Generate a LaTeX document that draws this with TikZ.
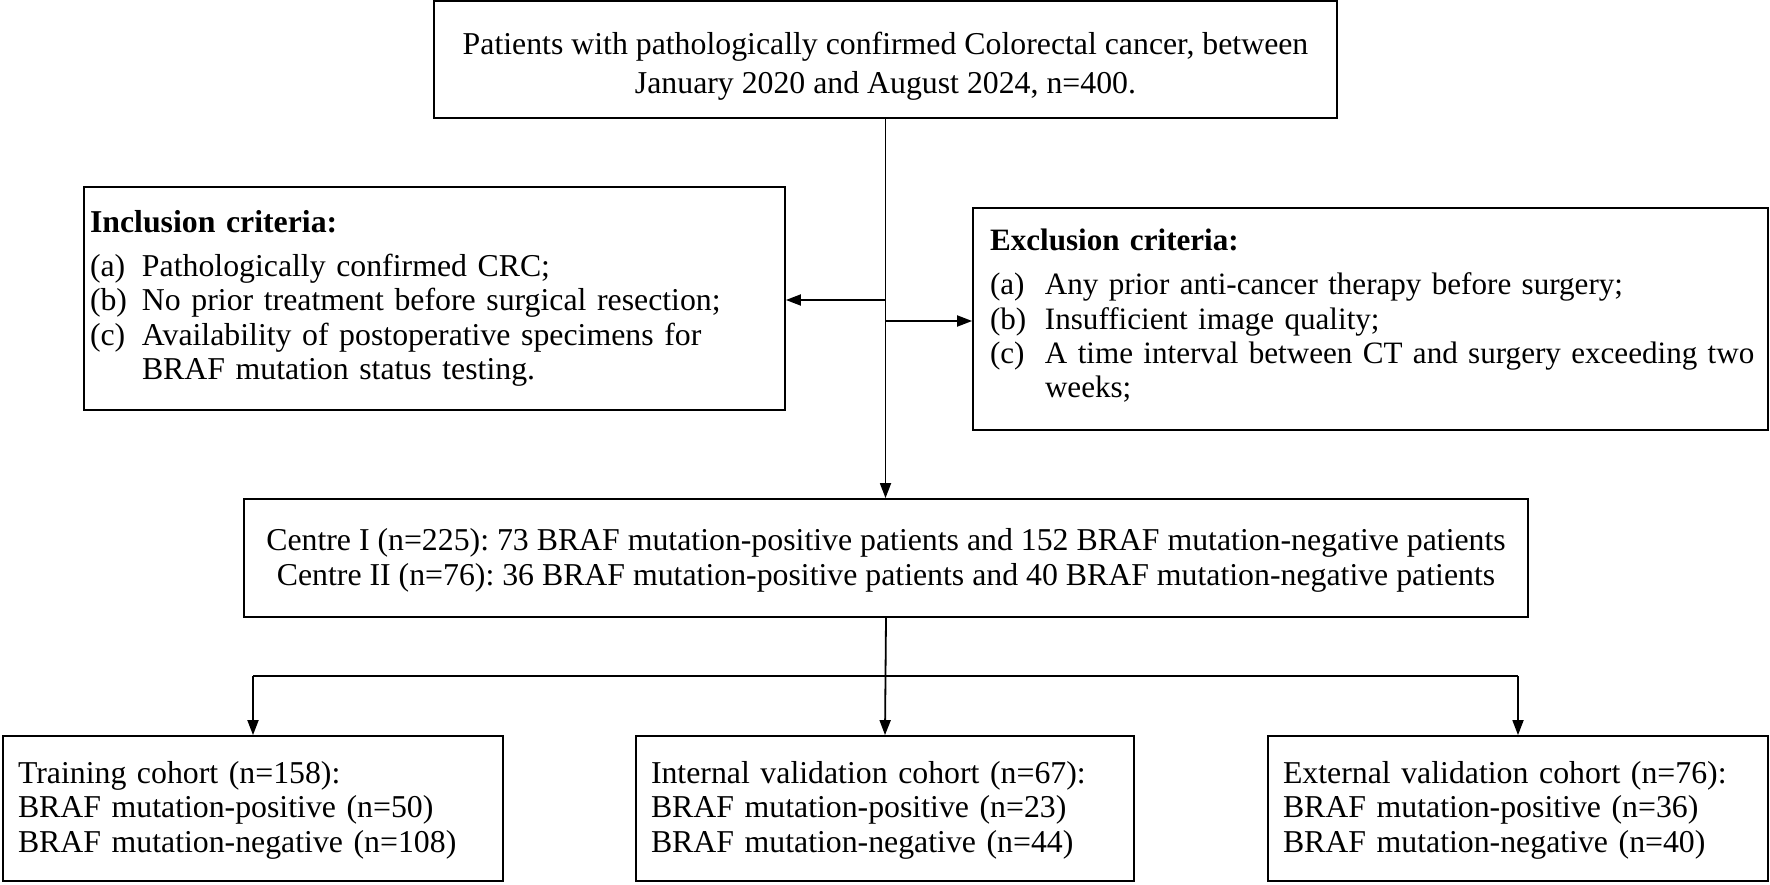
\documentclass[tikz,border=0pt]{standalone}
\usepackage{fontspec}
\setmainfont{Liberation Serif}
\usetikzlibrary{arrows.meta}
\frenchspacing
\newcommand\lblA[1]{\makebox[52pt][l]{#1}}
\newcommand\lblB[1]{\makebox[55pt][l]{#1}}
\begin{document}
\begin{tikzpicture}[x=1pt,y=-1pt,
  box/.style={draw, line width=1.8pt, inner ysep=0pt, inner xsep=0pt, font=\fontsize{31.8}{34.5}\selectfont},
  crit/.style={box, align=left, font=\fontsize{31.8}{34.3}\selectfont},
  cohort/.style={box, align=left, inner xsep=15pt, minimum height=145, anchor=center},
  arr/.style={line width=1.8pt, -{Triangle[length=15pt,width=11pt]}},
  ln/.style={line width=1.8pt}]
\useasboundingbox (0,0) rectangle (1770,885);
\node[box, align=center, minimum width=903, minimum height=117, font=\fontsize{31.8}{39}\selectfont] (top) at (885.5,59.5)
  {\rule{0pt}{36pt}Patients with pathologically confirmed Colorectal cancer, between\\January 2020 and August 2024, n=400.};
\node[crit, inner xsep=6pt, minimum width=701, minimum height=222.4, text width=689] (incl) at (434.5,298.6)
  {\textbf{Inclusion criteria:}\\[9.6pt]
   \mbox{\lblA{(a)}Pathologically confirmed CRC;}\\
   \mbox{\lblA{(b)}No prior treatment before surgical resection;}\\
   \mbox{\lblA{(c)}Availability of postoperative specimens for}\\
   \mbox{\hspace*{52pt}BRAF mutation status testing.}};
\node[crit, inner xsep=17pt, minimum width=795, minimum height=222, text width=761,
      font=\fontsize{31.1}{34.3}\selectfont] (excl) at (1370.5,319)
  {\textbf{Exclusion criteria:}\\[10pt]
   \mbox{\lblB{(a)}Any prior anti-cancer therapy before surgery;}\\
   \mbox{\lblB{(b)}Insufficient image quality;}\\
   \mbox{\lblB{(c)}A time interval between CT and surgery exceeding two}\\
   \mbox{\hspace*{55pt}weeks;}\rule[-11pt]{0pt}{0pt}};
\node[box, align=center, minimum width=1284, minimum height=118] (centre) at (886,558)
  {\rule{0pt}{26.5pt}Centre I (n=225): 73 BRAF mutation-positive patients and 152 BRAF mutation-negative patients\\
   Centre II (n=76): 36 BRAF mutation-positive patients and 40 BRAF mutation-negative patients};
\node[cohort, minimum width=500, text width=470] (train) at (253,808.5)
  {\rule{0pt}{25pt}Training cohort (n=158):\\BRAF mutation-positive (n=50)\\BRAF mutation-negative (n=108)};
\node[cohort, minimum width=498, text width=468] (intv) at (885,808.5)
  {\rule{0pt}{25pt}Internal validation cohort (n=67):\\BRAF mutation-positive (n=23)\\BRAF mutation-negative (n=44)};
\node[cohort, minimum width=500, text width=470] (extv) at (1518,808.5)
  {\rule{0pt}{25pt}External validation cohort (n=76):\\BRAF mutation-positive (n=36)\\BRAF mutation-negative (n=40)};
\draw[arr] (top.south) -- (top.south |- centre.north);
\coordinate (l1) at (885.5,300);
\draw[arr] (l1) -- (l1 -| incl.east);
\coordinate (r1) at (885.5,321);
\draw[arr] (r1) -- (r1 -| excl.west);
\coordinate (split) at (885.5,676);
\draw[ln] (centre.south) -- (split);
\draw[ln] (train.north |- split) -- (extv.north |- split);
\draw[arr] (train.north |- split) -- (train.north);
\draw[arr] (split) -- (intv.north);
\draw[arr] (extv.north |- split) -- (extv.north);
\end{tikzpicture}
\end{document}
